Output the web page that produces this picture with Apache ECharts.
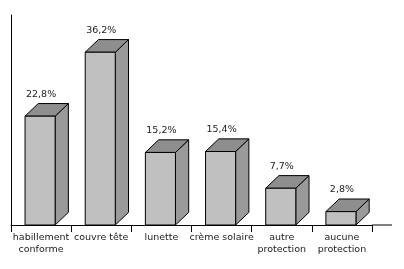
<!DOCTYPE html>
<html>
<head>
<meta charset="utf-8">
<script src="https://cdn.jsdelivr.net/npm/echarts@6/dist/echarts.min.js"></script>
<style>html,body{margin:0;padding:0;background:#fff}#c{width:404px;height:269px}</style>
</head>
<body>
<div id="c"></div>
<script>
const categories = ['habillement\nconforme', 'couvre tête', 'lunette', 'crème solaire', 'autre\nprotection', 'aucune\nprotection'];
const values = [22.8, 36.2, 15.2, 15.4, 7.7, 2.8];
const labels = ['22,8%', '36,2%', '15,2%', '15,4%', '7,7%', '2,8%'];

const FONT = 'DejaVu Sans';
const chart = echarts.init(document.getElementById('c'), null, {renderer: 'canvas'});

function renderItem(params, api) {
  const idx = api.value(0);
  const top = api.coord([idx, api.value(1)]);
  const base = api.coord([idx, 0]);
  const band = api.size([1, 0])[0];
  const w = band * 0.5;
  const dx = band * 0.22;
  const dy = band * 0.21;
  const x0 = top[0] - w / 2 - 1, x1 = x0 + w;
  const ty = top[1], by = base[1];
  const stroke = {stroke: '#000', lineWidth: 1};
  return {
    type: 'group',
    children: [
      {type: 'polygon', shape: {points: [[x1, ty], [x1 + dx, ty - dy], [x1 + dx, by - dy], [x1, by]]},
        style: Object.assign({fill: '#9a9a9a'}, stroke)},
      {type: 'polygon', shape: {points: [[x0, ty], [x1, ty], [x1 + dx, ty - dy], [x0 + dx, ty - dy]]},
        style: Object.assign({fill: '#8e8e8e'}, stroke)},
      {type: 'rect', shape: {x: x0, y: ty, width: w, height: by - ty},
        style: Object.assign({fill: '#c0c0c0'}, stroke)},
      {type: 'text', x: top[0], y: ty - dy - 4,
        style: {text: labels[idx], fill: '#222', font: '9.5px "' + FONT + '"', align: 'center', verticalAlign: 'bottom'}}
    ]
  };
}

chart.setOption({
  animation: false,
  backgroundColor: '#fff',
  grid: {left: 11, right: 32, top: 15, bottom: 44, containLabel: false},
  xAxis: {
    type: 'category',
    data: categories,
    boundaryGap: true,
    axisLine: {show: true, lineStyle: {color: '#000', width: 1}},
    axisTick: {show: true, length: 7, lineStyle: {color: '#000'}},
    axisLabel: {color: '#222', fontFamily: FONT, fontSize: 9.5, lineHeight: 12.5, margin: 6, interval: 0}
  },
  yAxis: {
    type: 'value',
    min: 0, max: 44,
    axisLine: {show: true, lineStyle: {color: '#000', width: 1}},
    axisTick: {show: false},
    axisLabel: {show: false},
    splitLine: {show: false}
  },
  series: [{
    type: 'custom',
    renderItem: renderItem,
    data: values.map((v, i) => [i, v]),
    clip: false
  }]
});

// extend x axis line beyond the last category (floor depth)
const pEnd = chart.convertToPixel({xAxisIndex: 0, yAxisIndex: 0}, [categories.length - 1, 0]);
const band = chart.getModel().getComponent('xAxis', 0).axis.getBandWidth();
const xr = pEnd[0] + band / 2;
chart.setOption({
  graphic: [{type: 'line', shape: {x1: xr, y1: pEnd[1], x2: xr + band / 3, y2: pEnd[1]}, style: {stroke: '#000', lineWidth: 1}}]
});
</script>
</body>
</html>
